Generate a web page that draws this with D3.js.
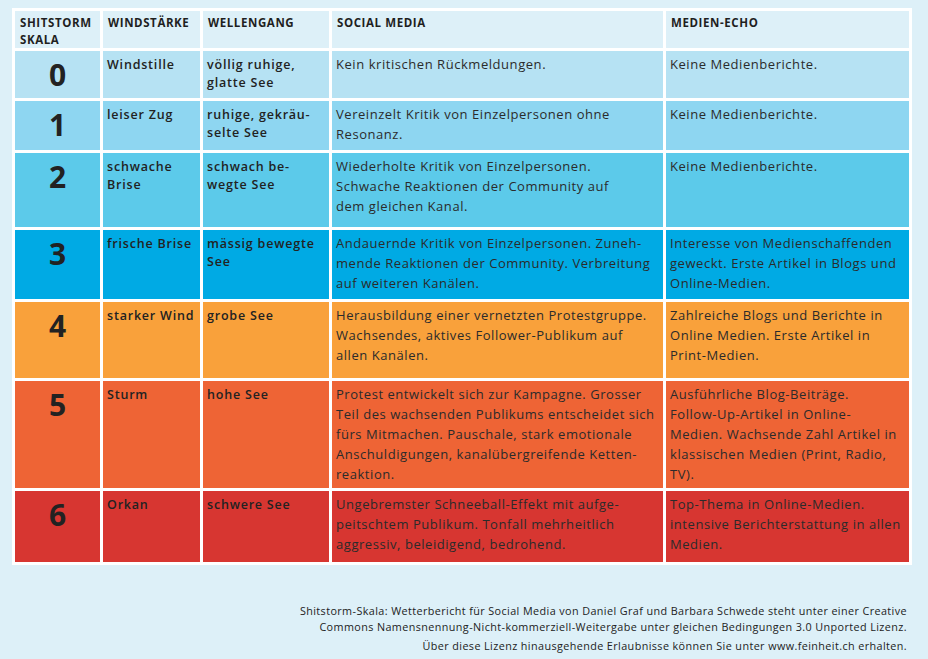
<!DOCTYPE html>
<html><head><meta charset="utf-8">
<script src="https://cdn.jsdelivr.net/npm/d3@7"></script>
<style>
html,body{margin:0;padding:0;background:#ddf0f8;}
svg{display:block;}
</style></head>
<body>
<script>
// ---- data ----
const headers = [["SHITSTORM","SKALA"],["WINDSTÄRKE"],["WELLENGANG"],["SOCIAL MEDIA"],["MEDIEN-ECHO"]];
const levels = ["0","1","2","3","4","5","6"];
const windstaerke = [["Windstille"],["leiser Zug"],["schwache","Brise"],["frische Brise"],["starker Wind"],["Sturm"],["Orkan"]];
const wellengang = [["völlig ruhige,","glatte See"],["ruhige, gekräu-","selte See"],["schwach be-","wegte See"],["mässig bewegte","See"],["grobe See"],["hohe See"],["schwere See"]];
const socialMedia = [
  ["Kein kritischen Rückmeldungen."],
  ["Vereinzelt Kritik von Einzelpersonen ohne","Resonanz."],
  ["Wiederholte Kritik von Einzelpersonen.","Schwache Reaktionen der Community auf","dem gleichen Kanal."],
  ["Andauernde Kritik von Einzelpersonen. Zuneh-","mende Reaktionen der Community. Verbreitung","auf weiteren Kanälen."],
  ["Herausbildung einer vernetzten Protestgruppe.","Wachsendes, aktives Follower-Publikum auf","allen Kanälen."],
  ["Protest entwickelt sich zur Kampagne. Grosser","Teil des wachsenden Publikums entscheidet sich","fürs Mitmachen. Pauschale, stark emotionale","Anschuldigungen, kanalübergreifende Ketten-","reaktion."],
  ["Ungebremster Schneeball-Effekt mit aufge-","peitschtem Publikum. Tonfall mehrheitlich","aggressiv, beleidigend, bedrohend."]
];
const medienEcho = [
  ["Keine Medienberichte."],
  ["Keine Medienberichte."],
  ["Keine Medienberichte."],
  ["Interesse von Medienschaffenden","geweckt. Erste Artikel in Blogs und","Online-Medien."],
  ["Zahlreiche Blogs und Berichte in","Online Medien. Erste Artikel in","Print-Medien."],
  ["Ausführliche Blog-Beiträge.","Follow-Up-Artikel in Online-","Medien. Wachsende Zahl Artikel in","klassischen Medien (Print, Radio,","TV)."],
  ["Top-Thema in Online-Medien.","intensive Berichterstattung in allen","Medien."]
];
const footer = [
  "Shitstorm-Skala: Wetterbericht für Social Media von Daniel Graf und Barbara Schwede steht unter einer Creative",
  "Commons Namensnennung-Nicht-kommerziell-Weitergabe unter gleichen Bedingungen 3.0 Unported Lizenz.",
  "Über diese Lizenz hinausgehende Erlaubnisse können Sie unter www.feinheit.ch erhalten."
];
const rowColors = ["#b6e2f3","#8ed6f1","#5ccaea","#00aae4","#f9a13b","#ee6435","#d73631"];

// ---- layout ----
const W = 928, H = 659;
const colEdges = [15, 103, 203, 332, 666, 909];   // column left edges + right end
const rowHeightsLayout = [37, 47, 49, 74, 69, 76, 107, 71]; // header + 7 rows
const gap = 3, top0 = 11;
const FONT = "'Open Sans', 'Noto Sans', sans-serif";

const svg = d3.select("body").append("svg").attr("width", W).attr("height", H);
svg.append("rect").attr("width", W).attr("height", H).attr("fill", "#ddf0f8");

const rowTops = [];
let y = top0;
rowHeightsLayout.forEach(h => { rowTops.push(y); y += h + gap; });
const tableBottom = y - gap;

const x = d3.scaleOrdinal().domain(d3.range(5)).range(colEdges.slice(0,5));
const cw = i => colEdges[i+1] - colEdges[i] - (i < 4 ? gap : 0);

// white frame
svg.append("rect")
  .attr("x", colEdges[0] - gap).attr("y", top0 - gap)
  .attr("width", colEdges[5] - colEdges[0] + 2*gap)
  .attr("height", tableBottom - top0 + 2*gap)
  .attr("fill", "#ffffff");

// header row
const hdr = svg.append("g");
headers.forEach((lines, i) => {
  hdr.append("rect").attr("x", x(i)).attr("y", rowTops[0]).attr("width", cw(i)).attr("height", rowHeightsLayout[0]).attr("fill", "#ddf0f8");
  const t = hdr.append("text").attr("x", x(i) + 5).attr("y", rowTops[0] + 16)
    .attr("font-family", FONT).attr("font-size", i >= 3 ? 11.5 : 11.5).attr("font-weight", 700)
    .attr("letter-spacing", i >= 3 ? 0.6 : 0.6).attr("fill", "#1f1f1f");
  lines.forEach((l, k) => t.append("tspan").attr("x", x(i) + 5).attr("dy", k ? 17 : 0).text(l));
});

// body rows
const rows = svg.append("g").selectAll("g").data(levels).join("g")
  .attr("transform", (d, r) => `translate(0,${rowTops[r+1]})`);

rows.each(function(d, r) {
  const g = d3.select(this);
  const h = rowHeightsLayout[r+1];
  for (let i = 0; i < 5; i++) {
    g.append("rect").attr("x", x(i)).attr("y", 0).attr("width", cw(i)).attr("height", h).attr("fill", rowColors[r]);
  }
  g.append("text").attr("x", x(0) + cw(0)/2).attr("y", 35).attr("text-anchor", "middle")
    .attr("font-family", FONT).attr("font-size", 30).attr("font-weight", 700).attr("fill", "#222").text(d);
  const multi = (i, lines, opts) => {
    const t = g.append("text").attr("x", x(i) + 4).attr("y", opts.y)
      .attr("font-family", FONT).attr("font-size", opts.size).attr("font-weight", opts.weight)
      .attr("letter-spacing", opts.ls).attr("fill", opts.fill);
    lines.forEach((l, k) => t.append("tspan").attr("x", x(i) + 4).attr("dy", k ? opts.lh : 0).text(l));
  };
  multi(1, windstaerke[r], {y: 18, size: 12.5, weight: 600, ls: 0.8, lh: 17.5, fill: "#222"});
  multi(2, wellengang[r], {y: 18, size: 12.5, weight: 600, ls: 0.8, lh: 17.5, fill: "#222"});
  multi(3, socialMedia[r], {y: 18, size: 13, weight: 400, ls: 0.55, lh: 20, fill: "#2b2b2b"});
  multi(4, medienEcho[r], {y: 18, size: 13, weight: 400, ls: 0.55, lh: 20, fill: "#2b2b2b"});
});

// footer
const ft = svg.append("g").attr("font-family", FONT).attr("font-size", 10.8).attr("letter-spacing", 0.4).attr("fill", "#222").attr("text-anchor", "end");
[615, 631, 650].forEach((fy, k) => ft.append("text").attr("x", 907).attr("y", fy).text(footer[k]));
</script>
</body></html>
